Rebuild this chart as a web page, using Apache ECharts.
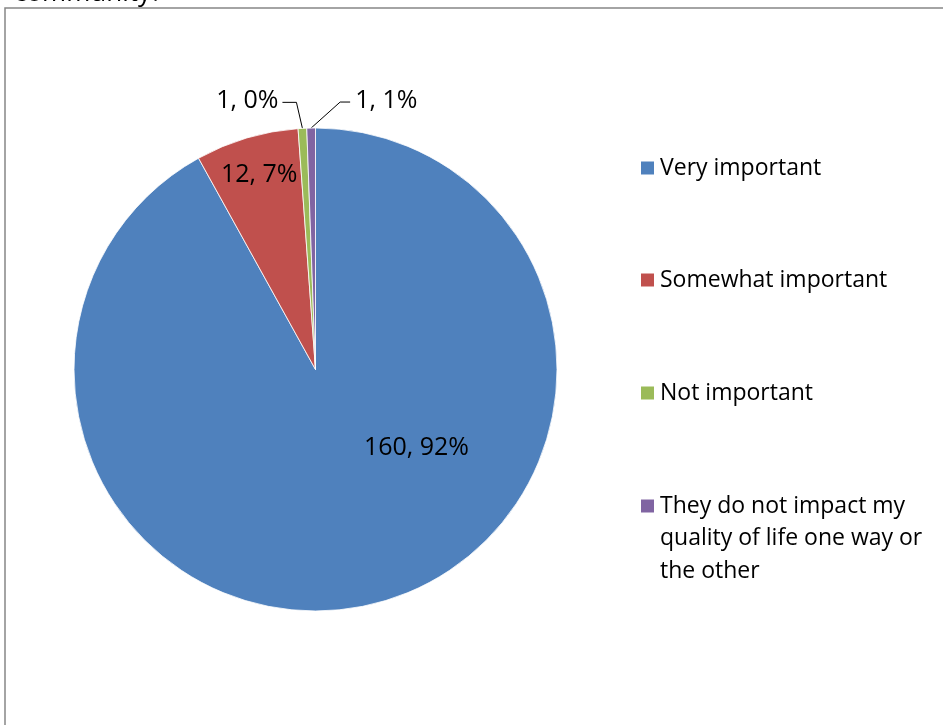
<!DOCTYPE html>
<html><head><meta charset="utf-8">
<script src="https://cdn.jsdelivr.net/npm/echarts@6/dist/echarts.min.js"></script>
<style>html,body{margin:0;padding:0;background:#fff;overflow:hidden}#c{width:943px;height:725px}</style>
</head><body><div id="c"></div>
<script>
const titleText = 'community?';
const categories = ['Very important', 'Somewhat important', 'Not important', 'They do not impact my quality of life one way or the other'];
const legendLabels = ['Very important', 'Somewhat important', 'Not important', 'They do not impact my\nquality of life one way or\nthe other'];
const counts = [160, 12, 1, 1];
const percents = [92, 7, 0, 1];
const colors = ['#4F81BD', '#C0504D', '#9BBB59', '#8064A2'];

const FONT = '"Open Sans", sans-serif';
const legendTops = [151.75, 263.75, 376.75, 424.75];

const chart = echarts.init(document.getElementById('c'), null, {renderer: 'canvas'});

const data = categories.map((name, i) => {
  const d = {name: name, value: counts[i], itemStyle: {color: colors[i]}};
  if (i >= 2) {
    d.label = {position: 'outside'};
    d.labelLine = {show: true};
  }
  return d;
});

chart.setOption({
  animation: false,
  backgroundColor: '#fff',
  title: {
    text: titleText, left: 14, top: -19, padding: 0,
    textStyle: {fontFamily: FONT, fontSize: 26, fontWeight: 'normal', color: '#000'}
  },
  graphic: [{
    type: 'rect', z: -1, silent: true,
    shape: {x: 5, y: 8, width: 1000, height: 800},
    style: {fill: 'none', stroke: '#868686', lineWidth: 1.5}
  }],
  legend: categories.map((name, i) => ({
    orient: 'vertical', left: 639, top: legendTops[i], padding: 0,
    itemWidth: 15, itemHeight: 15, icon: 'rect', selectedMode: false,
    data: [name],
    formatter: () => (i === 3 ? '\n\n' : '') + legendLabels[i],
    textStyle: {fontFamily: FONT, fontSize: 23, color: '#000', lineHeight: 32.5}
  })),
  series: [{
    type: 'pie',
    center: [315.5, 369.5],
    radius: 241.5,
    startAngle: 90,
    clockwise: true,
    avoidLabelOverlap: false,
    itemStyle: {borderColor: '#fff', borderWidth: 0.8},
    label: {
      show: true, position: 'inside', color: '#000',
      fontFamily: FONT, fontSize: 25,
      formatter: p => counts[p.dataIndex] + ', ' + percents[p.dataIndex] + '%'
    },
    labelLine: {show: false, length: 10, length2: 10, lineStyle: {color: '#000', width: 1}},
    emphasis: {disabled: true},
    labelLayout: function (p) {
      const i = p.dataIndex;
      if (i === 0) return {dx: 70, dy: -41};
      if (i === 1) return {dx: -21, dy: -76};
      const pts = p.labelLinePoints;
      if (!pts) return {};
      const e = pts[0];
      if (i === 2) {
        const p1 = [e[0] - 6, e[1] - 26];
        const p2 = [p1[0] - 14, p1[1]];
        return {x: p2[0] - 4, y: p2[1] - 1, align: 'right', verticalAlign: 'middle', labelLinePoints: [e, p1, p2]};
      }
      const p1 = [e[0] + 29, e[1] - 26];
      const p2 = [p1[0] + 10, p1[1]];
      return {x: p2[0] + 5, y: p2[1] - 1, align: 'left', verticalAlign: 'middle', labelLinePoints: [e, p1, p2]};
    },
    data: data
  }]
});
</script></body></html>
